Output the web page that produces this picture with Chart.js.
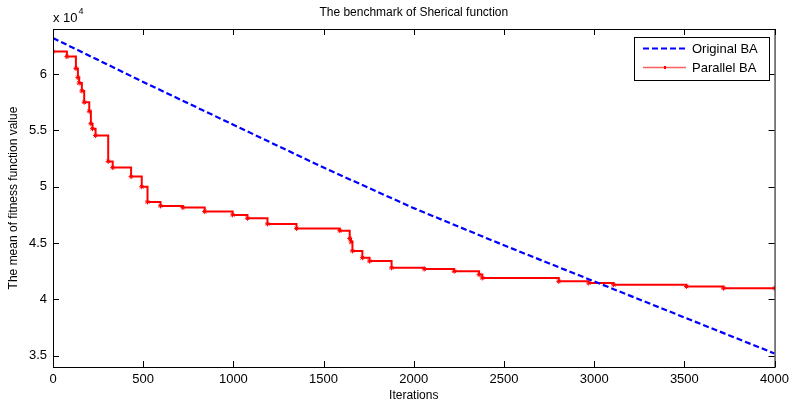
<!DOCTYPE html>
<html>
<head>
<meta charset="utf-8">
<script src="https://cdn.jsdelivr.net/npm/chart.js@4/dist/chart.umd.min.js"></script>
<style>
  body{margin:0;background:#fff;}
  .wrap{width:794px;height:406px;position:relative;}
</style>
</head>
<body>
<div class="wrap"><canvas class="chart"></canvas></div>
<script>
// iterations where values are read, fitness values (real units)
const originalIters=[0,500,1000,1500,2000,2500,3000,3500,4000];
const originalVals=[63200,59300,55500,51700,48100,44800,41600,38400,35200];

const parallelIters=[0,77,127,138,145,160,173,201,210,219,236,306,331,433,492,524,596,720,841,996,1078,1189,1350,1590,1645,1652,1660,1715,1755,1877,2058,2224,2362,2380,2804,2970,3108,3512,3717,4000];
const parallelVals=[62000,61550,60500,59700,59200,58500,57500,56700,55600,55150,54550,52250,51700,50900,50000,48650,48300,48150,47800,47500,47200,46700,46300,46100,45400,45100,44300,43700,43400,42800,42700,42500,42200,41900,41600,41450,41300,41150,41000,41000];

const xTicks=[0,500,1000,1500,2000,2500,3000,3500,4000];
const yTicks=[35000,40000,45000,50000,55000,60000];

const FONT="'Liberation Sans', Arial, Helvetica, sans-serif";

const toPoints=(xs,ys)=>xs.map((x,i)=>({x:x,y:ys[i]}));

// box round the axes, inward ticks, title, exponent and legend
const matlabFrame={
  id:"matlabFrame",
  afterDraw(chart){
    const {ctx,chartArea:a,scales}=chart;
    const xs=scales.x, ys=scales.y;
    ctx.save();
    ctx.strokeStyle="#000";
    ctx.lineWidth=1;
    ctx.strokeRect(a.left+0.5,a.top+0.5,a.right-a.left,a.bottom-a.top);
    ctx.beginPath();
    xTicks.forEach(v=>{
      const px=Math.round(xs.getPixelForValue(v))+0.5;
      ctx.moveTo(px,a.bottom);ctx.lineTo(px,a.bottom-6);
      ctx.moveTo(px,a.top);ctx.lineTo(px,a.top+6);
    });
    yTicks.forEach(v=>{
      const py=Math.round(ys.getPixelForValue(v))+0.5;
      ctx.moveTo(a.left,py);ctx.lineTo(a.left+6,py);
      ctx.moveTo(a.right,py);ctx.lineTo(a.right-6,py);
    });
    ctx.stroke();

    // title
    ctx.fillStyle="#000";
    ctx.font="12px "+FONT;
    ctx.textAlign="center";
    ctx.textBaseline="middle";
    ctx.fillText("The benchmark of Sherical function",(a.left+a.right)/2,13);

    // exponent
    ctx.textAlign="left";
    ctx.font="13px "+FONT;
    ctx.fillText("x 10",a.left,18);
    const w=ctx.measureText("x 10").width;
    ctx.font="9px "+FONT;
    ctx.fillText("4",a.left+w+1,12);

    // legend
    const lx=634, ly=37, lw=135, lh=43;
    ctx.fillStyle="#fff";
    ctx.fillRect(lx,ly,lw,lh);
    ctx.strokeRect(lx+0.5,ly+0.5,lw,lh);
    ctx.lineWidth=2;
    ctx.strokeStyle="#0000ff";
    ctx.setLineDash([6,3]);
    ctx.beginPath();ctx.moveTo(643,48.5);ctx.lineTo(686,48.5);ctx.stroke();
    ctx.setLineDash([]);
    ctx.lineWidth=1.5;
    ctx.strokeStyle="#ff6060";
    ctx.beginPath();ctx.moveTo(643,67.5);ctx.lineTo(686,67.5);ctx.stroke();
    ctx.fillStyle="#ff0000";
    ctx.fillRect(664,66,2,3);
    ctx.fillStyle="#000";
    ctx.font="13px "+FONT;
    ctx.textBaseline="middle";
    ctx.fillText("Original BA",692,49);
    ctx.fillText("Parallel BA",692,68);
    ctx.restore();
  }
};

const ctx=document.querySelector(".chart");
const myChart=new Chart(ctx,{
  type:"line",
  data:{
    datasets:[
      {
        label:"Original BA",
        data:toPoints(originalIters,originalVals),
        borderColor:"#0000ff",
        borderWidth:2.2,
        borderDash:[6,3],
        pointRadius:0,
        tension:0
      },
      {
        label:"Parallel BA",
        data:toPoints(parallelIters,parallelVals),
        borderColor:"#ff0000",
        backgroundColor:"#ff0000",
        borderWidth:2,
        stepped:true,
        pointStyle:"star",
        pointRadius:2.5,
        pointBorderWidth:1,
        pointBorderColor:"#ff0000"
      }
    ]
  },
  plugins:[matlabFrame],
  options:{
    responsive:true,
    maintainAspectRatio:false,
    animation:false,
    layout:{padding:{top:29,right:18,left:0,bottom:0}},
    plugins:{legend:{display:false},tooltip:{enabled:false},title:{display:false}},
    scales:{
      x:{
        type:"linear",
        min:0,max:4000,
        afterFit:(s)=>{s.height=39;},
        afterBuildTicks:(s)=>{s.ticks=xTicks.map(v=>({value:v}));},
        grid:{display:false,drawTicks:false},
        border:{display:false},
        ticks:{color:"#000",padding:5,maxRotation:0,font:{family:FONT,size:13},callback:(v)=>String(v)},
        title:{display:true,text:"Iterations",color:"#000",font:{family:FONT,size:12},padding:{top:0,bottom:3}}
      },
      y:{
        type:"linear",
        min:34000,max:64000,
        afterFit:(s)=>{s.width=53;},
        afterBuildTicks:(s)=>{s.ticks=yTicks.map(v=>({value:v}));},
        grid:{display:false,drawTicks:false},
        border:{display:false},
        ticks:{color:"#000",padding:6,font:{family:FONT,size:13},callback:(v)=>String(v/10000)},
        title:{display:true,text:"The mean of fitness function value",color:"#000",font:{family:FONT,size:12},padding:{top:6,bottom:0}}
      }
    }
  }
});
</script>
</body>
</html>
